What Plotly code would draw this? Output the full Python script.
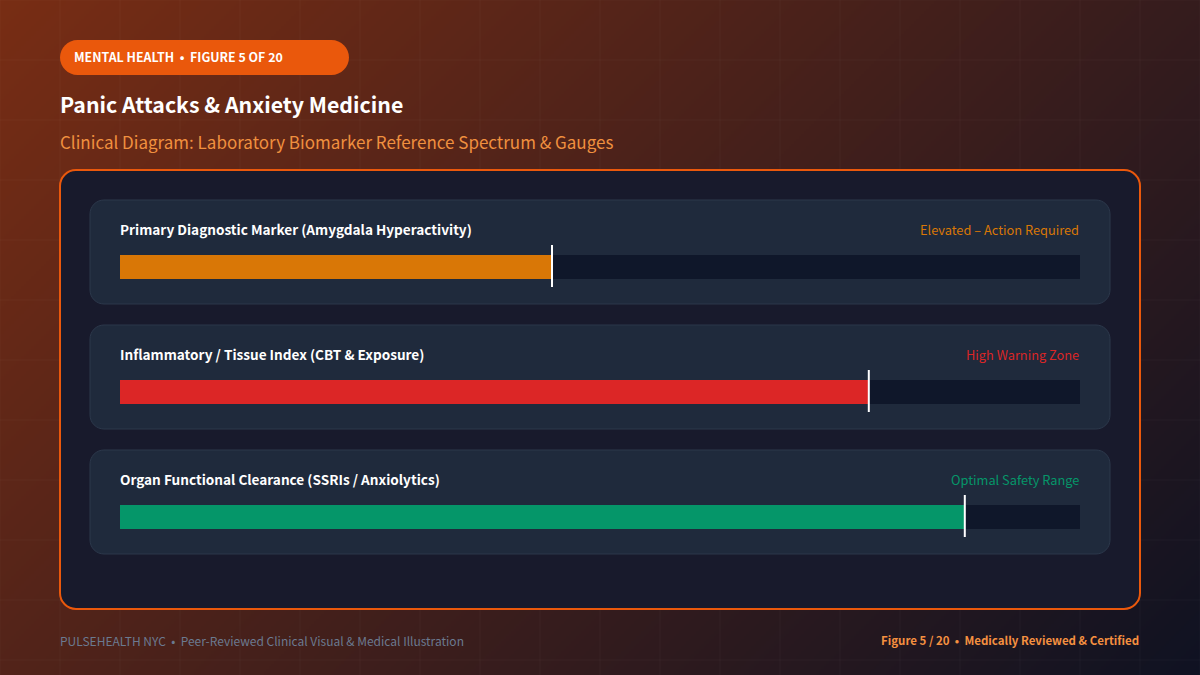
import base64
import struct
import zlib

import numpy as np
import plotly.graph_objects as go

# ---------------- data ----------------
categories = [
    "Primary Diagnostic Marker (Amygdala Hyperactivity)",
    "Inflammatory / Tissue Index (CBT & Exposure)",
    "Organ Functional Clearance (SSRIs / Anxiolytics)",
]
values = [45, 78, 88]
scale_max = [100, 100, 100]
status_labels = ["Elevated – Action Required", "High Warning Zone", "Optimal Safety Range"]
status_colors = ["#d97706", "#dc2626", "#059669"]

W, H = 1200, 675
FONT = "Noto Sans CJK KR"


def px(x):
    return x / W


def py(y):
    return 1 - y / H


def rrect(x0, y0, x1, y1, r):
    k = 0.5523 * r
    pts = [
        ("M", [(x0 + r, y0)]),
        ("L", [(x1 - r, y0)]),
        ("C", [(x1 - r + k, y0), (x1, y0 + r - k), (x1, y0 + r)]),
        ("L", [(x1, y1 - r)]),
        ("C", [(x1, y1 - r + k), (x1 - r + k, y1), (x1 - r, y1)]),
        ("L", [(x0 + r, y1)]),
        ("C", [(x0 + r - k, y1), (x0, y1 - r + k), (x0, y1 - r)]),
        ("L", [(x0, y0 + r)]),
        ("C", [(x0, y0 + r - k), (x0 + r - k, y0), (x0 + r, y0)]),
    ]
    s = ""
    for cmd, ps in pts:
        s += cmd + " " + " ".join(f"{px(a):.5f},{py(b):.5f}" for a, b in ps) + " "
    return s + "Z"


def png_uri(arr):
    h, w, _ = arr.shape
    raw = b"".join(b"\x00" + arr[i].tobytes() for i in range(h))

    def chunk(t, d):
        c = struct.pack(">I", len(d)) + t + d
        return c + struct.pack(">I", zlib.crc32(t + d) & 0xFFFFFFFF)

    png = (b"\x89PNG\r\n\x1a\n"
           + chunk(b"IHDR", struct.pack(">IIBBBBB", w, h, 8, 2, 0, 0, 0))
           + chunk(b"IDAT", zlib.compress(raw, 9))
           + chunk(b"IEND", b""))
    return "data:image/png;base64," + base64.b64encode(png).decode()


# background gradient (135deg)
gw, gh = 480, 270
xs = (np.arange(gw) + 0.5) * W / gw
ys = (np.arange(gh) + 0.5) * H / gh
X, Y = np.meshgrid(xs, ys)
L = (W + H) * 0.7071
t = ((X - W / 2) + (Y - H / 2)) * 0.7071 / L + 0.5
t = np.clip(t, 0, 1)[..., None]
c0 = np.array([120, 45, 20], float)
c1 = np.array([15, 18, 34], float)
img = (c0 * (1 - t) + c1 * t).round().astype(np.uint8)

fig = go.Figure()

fig.add_trace(go.Bar(
    x=scale_max, y=categories, orientation="h", width=0.192,
    marker=dict(color="#0f172a", line=dict(width=0)), hoverinfo="skip", showlegend=False,
))
fig.add_trace(go.Bar(
    x=values, y=categories, orientation="h", width=0.192,
    marker=dict(color=status_colors, line=dict(width=0)), showlegend=False,
))
fig.add_trace(go.Scatter(
    x=values, y=categories, mode="markers",
    marker=dict(symbol="line-ns", size=30, line=dict(width=2, color="#ffffff"), color="#ffffff"),
    hoverinfo="skip", showlegend=False,
))

shapes = []
# grid lines
for gx in range(0, W + 1, 60):
    shapes.append(dict(type="line", xref="paper", yref="paper", x0=px(gx), x1=px(gx), y0=0, y1=1,
                       line=dict(color="rgba(255,255,255,0.035)", width=1), layer="below"))
for gy in range(0, H + 1, 60):
    shapes.append(dict(type="line", xref="paper", yref="paper", x0=0, x1=1, y0=py(gy), y1=py(gy),
                       line=dict(color="rgba(255,255,255,0.035)", width=1), layer="below"))
# pill
shapes.append(dict(type="path", xref="paper", yref="paper", path=rrect(60, 40, 349, 75, 17.5),
                   fillcolor="#ea580c", line=dict(width=0), layer="below"))
# card
shapes.append(dict(type="path", xref="paper", yref="paper", path=rrect(60, 170, 1140, 609, 16),
                   fillcolor="#181a2c", line=dict(color="#ea580c", width=2), layer="below"))
# panels
for i in range(3):
    top = 200 + 125 * i
    shapes.append(dict(type="path", xref="paper", yref="paper", path=rrect(90, top, 1110, top + 104, 14),
                       fillcolor="#1f2a3c", line=dict(color="#2c384b", width=1), layer="below"))

annotations = [
    dict(x=px(72), y=py(57.5), xref="paper", yref="paper", xanchor="left", yanchor="middle",
         text="MENTAL HEALTH  •  FIGURE 5 OF 20", showarrow=False,
         font=dict(family=FONT, size=12.4, color="#ffffff", weight="bold")),
    dict(x=px(58), y=py(104), xref="paper", yref="paper", xanchor="left", yanchor="middle",
         text="Panic Attacks & Anxiety Medicine", showarrow=False,
         font=dict(family=FONT, size=21.3, color="#ffffff", weight="bold")),
    dict(x=px(58), y=py(141), xref="paper", yref="paper", xanchor="left", yanchor="middle",
         text="Clinical Diagram: Laboratory Biomarker Reference Spectrum & Gauges", showarrow=False,
         font=dict(family=FONT, size=17, color="#f0903f")),
    dict(x=px(58), y=py(640), xref="paper", yref="paper", xanchor="left", yanchor="middle",
         text="PULSEHEALTH NYC  •  Peer-Reviewed Clinical Visual & Medical Illustration", showarrow=False,
         font=dict(family=FONT, size=12, color="#6b7a90")),
    dict(x=px(1141), y=py(640), xref="paper", yref="paper", xanchor="right", yanchor="middle",
         text="Figure 5 / 20  •  Medically Reviewed & Certified", showarrow=False,
         font=dict(family=FONT, size=11.5, color="#f59040", weight="bold")),
]
for cat, lab, col in zip(categories, status_labels, status_colors):
    annotations.append(dict(x=px(118), y=cat, xref="paper", yref="y", yshift=37,
                            xanchor="left", yanchor="middle", text=cat, showarrow=False,
                            font=dict(family=FONT, size=13.6, color="#ffffff", weight="bold")))
    annotations.append(dict(x=px(1081), y=cat, xref="paper", yref="y", yshift=37,
                            xanchor="right", yanchor="middle", text=lab, showarrow=False,
                            font=dict(family=FONT, size=12.8, color=col)))

fig.update_layout(
    width=W, height=H, margin=dict(l=0, r=0, t=0, b=0),
    paper_bgcolor="#2a1a1a", plot_bgcolor="rgba(0,0,0,0)",
    barmode="overlay", bargap=0,
    xaxis=dict(domain=[px(120), px(1080)], range=[0, 100], visible=False, fixedrange=True),
    yaxis=dict(domain=[py(578.5), py(203.5)], range=[2.5, -0.5], type="category",
               categoryorder="array", categoryarray=categories, visible=False, fixedrange=True),
    shapes=shapes, annotations=annotations,
    images=[dict(source=png_uri(img), xref="paper", yref="paper", x=0, y=1, sizex=1, sizey=1,
                 xanchor="left", yanchor="top", sizing="stretch", layer="below")],
    font=dict(family=FONT),
)

fig.write_html("out.html", config={"displayModeBar": False},
               post_script="document.body.style.margin='0';document.body.style.overflow='hidden';")
